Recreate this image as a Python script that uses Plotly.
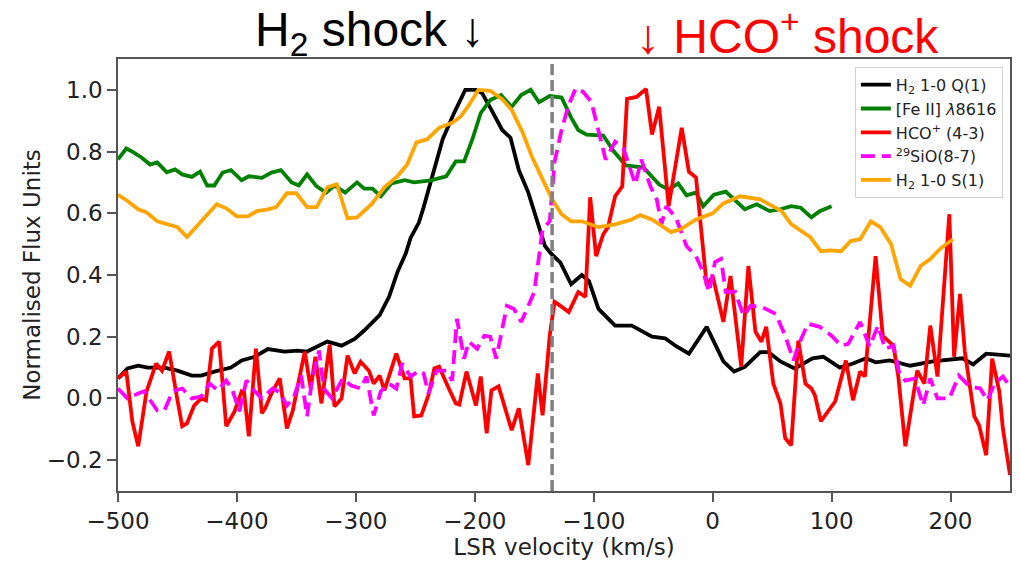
import plotly.graph_objects as go

# ---------------------------------------------------------------------------
# Normalised line profiles versus LSR velocity (km/s)
# ---------------------------------------------------------------------------

# H2 1-0 Q(1)
h2q_v = [-500, -492, -483, -475, -461, -450, -438, -430, -419, -405, -396, -385,
         -374, -360, -349, -341, -324, -312, -301, -293, -280, -272, -265, -258,
         -254, -247, -243, -236, -227, -218, -208, -199, -194, -186, -177, -170,
         -163, -155, -149, -141, -136, -128, -119, -110, -104, -96, -82, -68,
         -51, -40, -31, -20, -5, 5, 9, 18, 27, 40, 47, 57, 69, 84, 93, 107, 118,
         129, 137, 149, 166, 185, 210, 219, 230, 250]
h2q_f = [0.065, 0.097, 0.106, 0.100, 0.100, 0.090, 0.074, 0.074, 0.087, 0.100,
         0.123, 0.135, 0.160, 0.152, 0.155, 0.152, 0.184, 0.171, 0.193, 0.220,
         0.270, 0.330, 0.410, 0.470, 0.520, 0.570, 0.620, 0.720, 0.840, 0.920,
         1.000, 1.000, 0.990, 0.935, 0.870, 0.845, 0.740, 0.667, 0.590, 0.494,
         0.470, 0.440, 0.370, 0.400, 0.380, 0.290, 0.236, 0.236, 0.200, 0.195,
         0.170, 0.145, 0.232, 0.155, 0.120, 0.087, 0.102, 0.150, 0.150, 0.120,
         0.097, 0.130, 0.135, 0.100, 0.113, 0.130, 0.117, 0.123, 0.106, 0.120,
         0.130, 0.110, 0.145, 0.139]

# [Fe II] 8616
fe_v = [-500, -493, -488, -480, -473, -467, -459, -452, -446, -438, -431, -425,
        -419, -412, -405, -396, -390, -379, -371, -363, -354, -348, -341, -333,
        -325, -318, -309, -299, -293, -286, -279, -270, -259, -251, -237, -224,
        -216, -209, -202, -195, -187, -178, -169, -161, -153, -146, -137, -127,
        -119, -113, -106, -92, -83, -73, -58, -45, -37, -29, -22, -14, -8, 1,
        11, 18, 27, 37, 48, 57, 66, 74, 83, 90, 100]
fe_f = [0.775, 0.810, 0.800, 0.780, 0.758, 0.765, 0.733, 0.742, 0.726, 0.718,
        0.735, 0.690, 0.690, 0.732, 0.740, 0.707, 0.720, 0.715, 0.732, 0.740,
        0.700, 0.690, 0.726, 0.687, 0.667, 0.690, 0.667, 0.700, 0.680, 0.680,
        0.655, 0.697, 0.707, 0.700, 0.707, 0.720, 0.768, 0.768, 0.840, 0.925,
        0.967, 0.983, 0.945, 0.983, 1.000, 0.960, 0.980, 0.975, 0.910, 0.870,
        0.855, 0.852, 0.800, 0.755, 0.748, 0.693, 0.677, 0.697, 0.658, 0.667,
        0.623, 0.660, 0.670, 0.645, 0.613, 0.629, 0.607, 0.613, 0.623, 0.618,
        0.587, 0.607, 0.623]

# HCO+ (4-3)
hco_v = [-500, -493, -488, -483, -476, -468, -463, -457, -450, -446, -442, -436,
         -430, -426, -421, -415, -409, -402, -396, -394, -390, -384, -379, -376,
         -371, -364, -358, -353, -343, -338, -334, -329, -322, -318, -312, -307,
         -301, -296, -289, -285, -280, -276, -266, -259, -254, -251, -245, -239,
         -234, -230, -223, -216, -213, -207, -199, -195, -190, -186, -180, -169,
         -163, -155, -147, -143, -137, -133, -128, -121, -113, -107, -103, -98,
         -92, -88, -82, -76, -72, -64, -56, -51, -45, -37, -26, -20, -14, -5, 0,
         9, 15, 24, 30, 36, 41, 45, 51, 57, 61, 66, 72, 78, 83, 86, 91, 97, 103,
         112, 118, 124, 128, 137, 143, 152, 156, 162, 168, 172, 178, 183, 189,
         199, 203, 208, 212, 220, 224, 230, 235, 241, 244, 250]
hco_f = [0.065, 0.087, -0.074, -0.155, 0.023, 0.113, 0.090, 0.152, -0.006,
         -0.090, -0.081, -0.023, 0.000, -0.006, 0.161, 0.184, -0.090, -0.042,
         0.023, 0.020, -0.123, 0.161, -0.048, -0.030, 0.016, 0.065, -0.097,
         -0.039, 0.152, 0.032, 0.135, -0.016, 0.174, -0.026, 0.000, 0.139, 0.081,
         0.119, 0.090, 0.048, 0.074, 0.026, 0.145, 0.065, 0.065, -0.058, -0.055,
         0.010, 0.097, 0.103, 0.042, -0.016, -0.020, 0.087, -0.023, 0.071,
         -0.113, 0.026, 0.039, -0.103, -0.032, -0.216, 0.081, -0.055, 0.203,
         0.313, 0.300, 0.280, 0.345, 0.329, 0.652, 0.461, 0.532, 0.555, 0.655,
         0.687, 0.971, 0.977, 1.003, 0.855, 0.945, 0.623, 0.877, 0.735, 0.716,
         0.365, 0.397, 0.248, 0.397, 0.103, 0.429, 0.216, 0.184, 0.232, 0.048,
         -0.016, -0.129, -0.152, 0.187, 0.048, 0.032, 0.010, -0.074, -0.042,
         -0.010, 0.123, -0.006, 0.087, 0.071, 0.461, 0.203, 0.171, 0.074,
         -0.155, -0.010, 0.090, 0.048, 0.236, 0.071, 0.597, 0.135, 0.339, 0.152,
         -0.058, -0.087, -0.184, 0.129, 0.023, -0.097, -0.248]

# 29SiO (8-7)
sio_v = [-500, -492, -483, -478, -467, -461, -454, -446, -438, -430, -423, -416,
         -409, -404, -398, -392, -385, -379, -370, -364, -358, -352, -346, -341,
         -337, -331, -327, -320, -311, -304, -296, -291, -285, -279, -272, -266,
         -261, -254, -247, -243, -239, -232, -224, -219, -215, -209, -205, -198,
         -192, -187, -182, -178, -173, -167, -161, -155, -150, -143, -137, -133,
         -127, -121, -115, -109, -102, -90, -82, -75, -65, -60, -52, -47, -43,
         -39, -31, -22, -14, -8, -3, 2, 7, 11, 19, 26, 32, 41, 53, 61, 68, 72,
         80, 90, 100, 108, 114, 124, 132, 139, 145, 152, 157, 162, 170, 177, 183,
         189, 199, 207, 216, 225, 231, 237, 244, 250]
sio_f = [0.032, 0.000, 0.016, 0.023, -0.039, -0.039, 0.023, 0.032, 0.000, 0.006,
         0.048, 0.026, 0.058, 0.030, -0.042, 0.058, 0.023, 0.000, 0.032, 0.020,
         -0.023, 0.006, 0.074, -0.058, 0.055, 0.155, 0.032, 0.000, 0.065, 0.042,
         0.032, 0.071, -0.055, 0.023, 0.048, 0.032, 0.113, 0.071, 0.090, 0.081,
         0.016, 0.090, 0.090, 0.058, 0.258, 0.129, 0.184, 0.161, 0.203, 0.200,
         0.129, 0.210, 0.300, 0.290, 0.248, 0.300, 0.345, 0.548, 0.574, 0.765,
         0.871, 0.952, 1.005, 0.994, 0.961, 0.774, 0.832, 0.810, 0.694, 0.774,
         0.684, 0.645, 0.565, 0.623, 0.587, 0.494, 0.461, 0.410, 0.345, 0.442,
         0.452, 0.345, 0.345, 0.268, 0.300, 0.297, 0.274, 0.203, 0.123, 0.171,
         0.242, 0.232, 0.203, 0.171, 0.177, 0.248, 0.168, 0.236, 0.161, 0.171,
         0.081, 0.058, 0.065, -0.023, 0.065, 0.000, 0.000, 0.074, 0.039, 0.032,
         -0.006, 0.048, 0.071, 0.039]

# H2 1-0 S(1)
h2s_v = [-500, -492, -483, -476, -467, -458, -450, -442, -430, -417, -409, -400,
         -391, -383, -374, -367, -358, -350, -341, -333, -324, -316, -307, -299,
         -287, -276, -265, -257, -249, -240, -230, -219, -212, -205, -197, -187,
         -177, -169, -160, -152, -143, -135, -127, -119, -110, -96, -82, -68,
         -61, -51, -35, -27, -14, 0, 9, 23, 40, 51, 58, 66, 82, 91, 99, 108,
         116, 124, 133, 141, 150, 158, 166, 175, 183, 191, 202]
h2s_f = [0.660, 0.640, 0.613, 0.603, 0.574, 0.565, 0.555, 0.523, 0.574, 0.629,
         0.616, 0.590, 0.590, 0.607, 0.613, 0.620, 0.665, 0.665, 0.620, 0.620,
         0.684, 0.694, 0.584, 0.587, 0.629, 0.684, 0.720, 0.757, 0.830, 0.840,
         0.877, 0.893, 0.913, 0.950, 1.000, 0.997, 0.970, 0.935, 0.864, 0.784,
         0.710, 0.645, 0.597, 0.574, 0.574, 0.555, 0.564, 0.580, 0.594, 0.580,
         0.539, 0.548, 0.580, 0.600, 0.632, 0.655, 0.645, 0.623, 0.607, 0.565,
         0.523, 0.477, 0.480, 0.477, 0.510, 0.516, 0.574, 0.555, 0.500, 0.387,
         0.365, 0.430, 0.452, 0.484, 0.516]

# Velocity of the shock (dashed marker)
shock_v = -135

series = [
    (h2q_v, h2q_f, "H<sub>2</sub> 1-0 Q(1)", "#000000", "solid"),
    (fe_v, fe_f, "[Fe II] <i>λ</i>8616", "#008000", "solid"),
    (hco_v, hco_f, "HCO<sup>+</sup> (4-3)", "#ff0000", "solid"),
    (sio_v, sio_f, "<sup>29</sup>SiO(8-7)", "#ff00ff", "14px,7px"),
    (h2s_v, h2s_f, "H<sub>2</sub> 1-0 S(1)", "#ffa500", "solid"),
]

fig = go.Figure()
for v, f, name, color, dash in series:
    fig.add_trace(go.Scatter(
        x=v, y=f, mode="lines", name=name,
        line=dict(color=color, width=3.8, dash=dash),
    ))

fig.add_vline(x=shock_v, line=dict(color="#808080", width=3.5, dash="11px,5px"))

title_font = "Liberation Sans, Arial, sans-serif"
fig.add_annotation(
    x=-191, xref="x", xanchor="right", y=1.06, yref="paper", yanchor="middle",
    text="H<sub>2</sub> shock ↓", showarrow=False,
    font=dict(family=title_font, size=48, color="#000000"),
)
fig.add_annotation(
    x=-66, xref="x", xanchor="left", y=1.06, yref="paper", yanchor="middle",
    text="↓ HCO<sup>+</sup> shock", showarrow=False,
    font=dict(family=title_font, size=48, color="#ff0000"),
)

axis_font = "DejaVu Sans, sans-serif"
axis_style = dict(
    showline=True, linecolor="#555555", linewidth=1.5, mirror=True,
    ticks="outside", ticklen=9, tickwidth=1.5, tickcolor="#555555",
    showgrid=False, zeroline=False,
    tickfont=dict(family=axis_font, size=23, color="#222222"),
)

fig.update_xaxes(
    range=[-500, 250], tickmode="linear", tick0=-500, dtick=100,
    title=dict(text="LSR velocity (km/s)", font=dict(family=axis_font, size=23, color="#222222"),
               standoff=4),
    **axis_style,
)
fig.update_yaxes(
    range=[-0.3, 1.1], tickmode="linear", tick0=-0.2, dtick=0.2, tickformat=".1f",
    title=dict(text="Normalised Flux Units", font=dict(family=axis_font, size=23, color="#222222"),
               standoff=0),
    **axis_style,
)

fig.update_layout(
    width=1020, height=562,
    margin=dict(l=118, r=8, t=59, b=70),
    paper_bgcolor="white", plot_bgcolor="white",
    showlegend=True,
    legend=dict(
        x=0.992, xanchor="right", y=0.982, yanchor="top",
        bgcolor="rgba(255,255,255,0.85)", bordercolor="#d0d0d0", borderwidth=1,
        font=dict(family=axis_font, size=16, color="#222222"),
    ),
)

fig.write_html("out.html")
